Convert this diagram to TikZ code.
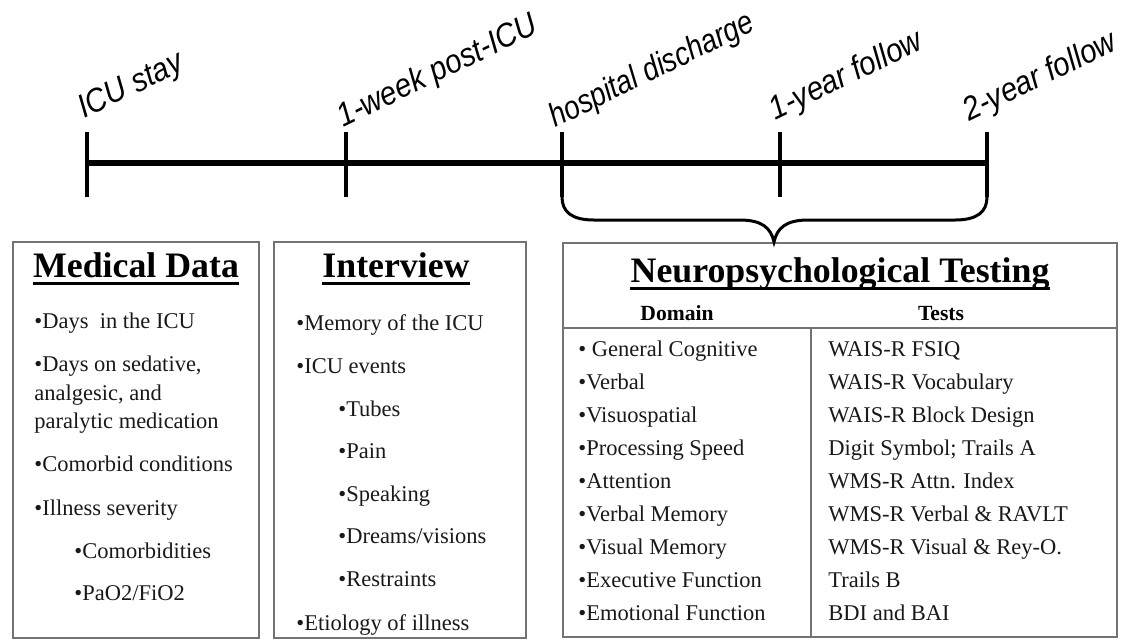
\documentclass[tikz,border=0pt]{standalone}
\usepackage{fontspec}
\setmainfont{Liberation Serif}
\newfontfamily\labfont{Liberation Sans}
\definecolor{boxgray}{RGB}{115,115,115}
\definecolor{txt}{RGB}{25,25,25}
\begin{document}
\begin{tikzpicture}[x=0.5pt,y=-0.5pt,
  timeln/.style={line width=2.6pt,black},
  tickln/.style={line width=1.9pt,black},
  bracel/.style={line width=1.5pt,black},
  box/.style={draw=boxgray,line width=1pt,inner sep=0pt,anchor=north west},
  sepln/.style={draw=boxgray,line width=1pt},
  lab/.style={font=\labfont\itshape\fontsize{16.5}{19}\selectfont,anchor=base west,inner sep=0pt,rotate=26,xscale=0.89},
  ttl/.style={font=\bfseries\fontsize{17.9}{20}\selectfont,anchor=base,inner sep=0pt},
  uline/.style={line width=1.3pt,black},
  bod/.style={font=\fontsize{11.25}{14}\selectfont,text=txt,anchor=base west,inner sep=0pt},
  hdr/.style={font=\bfseries\fontsize{10.8}{13}\selectfont,anchor=base,inner sep=0pt}
]
\useasboundingbox (0,0) rectangle (1133,639);

% timeline
\coordinate (t1) at (87,163);
\coordinate (t2) at (346,163);
\coordinate (t3) at (562,163);
\coordinate (t4) at (780,163);
\coordinate (t5) at (987,163);
\draw[timeln] (t1) -- (t5);
\foreach \t in {t1,t2,t3,t4,t5}{
  \draw[tickln] ([yshift=15.5pt]\t) -- ([yshift=-17pt]\t);
}
\node[lab] (l1) at (84,119) {ICU stay};
\node[lab] (l2) at (343,128) {1-week post-ICU};
\node[lab,xscale=0.945] (l3) at (555,128) {hospital discharge};
\node[lab] (l4) at (775,121) {1-year follow};
\node[lab] (l5) at (969,122) {2-year follow};

% boxes
\node[box,minimum width=123pt,minimum height=198pt] (med) at (12,241) {};
\node[box,minimum width=126pt,minimum height=198pt] (int) at (273,241) {};
\node[box,minimum width=277pt,minimum height=197pt] (neu) at (562,242) {};

% brace
\coordinate (tip) at (774,242);
\draw[bracel] ([yshift=-17pt]t3) .. controls (562,212) and (572,220) .. (594,220)
  -- (740,220) .. controls (762,220) and (771,228) .. (tip)
  .. controls (777,228) and (786,220) .. (808,220)
  -- (955,220) .. controls (977,220) and (987,212) .. ([yshift=-17pt]t5);

% Medical Data
\node[ttl] (mt) at (136,277) {Medical Data};
\draw[uline] ([yshift=-3.3pt]mt.base west) -- ([yshift=-3.3pt]mt.base east);
\node[bod] (m1) at (34,328) {•Days\ \ in the ICU};
\node[bod] (m2) at (34,371) {•Days on sedative,};
\node[bod] (m2b) at (34,400) {analgesic, and};
\node[bod] (m2c) at (34,428) {paralytic medication};
\node[bod] (m3) at (34,471) {•Comorbid conditions};
\node[bod] (m4) at (34,515) {•Illness severity};
\node[bod] (m5) at (74,558) {•Comorbidities};
\node[bod] (m6) at (74,600) {•PaO2/FiO2};

% Interview
\node[ttl] (it) at (396,277) {Interview};
\draw[uline] ([yshift=-3.3pt]it.base west) -- ([yshift=-3.3pt]it.base east);
\node[bod] (i1) at (296,330) {•Memory of the ICU};
\node[bod] (i2) at (296,373) {•ICU events};
\node[bod] (i3) at (338,416) {•Tubes};
\node[bod] (i4) at (338,458) {•Pain};
\node[bod] (i5) at (338,501) {•Speaking};
\node[bod] (i6) at (338,543) {•Dreams/visions};
\node[bod] (i7) at (338,586) {•Restraints};
\node[bod] (i8) at (296,630) {•Etiology of illness};

% Neuropsychological Testing
\node[ttl] (nt) at (840,282) {Neuropsychological Testing};
\draw[uline] ([yshift=-3.2pt]nt.base west) -- ([yshift=-3.2pt]nt.base east);
\coordinate (hl) at (0,328);
\coordinate (dv) at (811,0);
\draw[sepln] (neu.west |- hl) -- (neu.east |- hl);
\draw[sepln] (dv |- hl) -- (dv |- neu.south);
\node[hdr] (hd) at (677,320) {Domain};
\node[hdr] (ht) at (941,320) {Tests};

\foreach \y/\d/\tt [count=\i] in {
  356/{• General Cognitive}/{WAIS-R FSIQ},
  389/{•Verbal}/{WAIS-R Vocabulary},
  422/{•Visuospatial}/{WAIS-R Block Design},
  455/{•Processing Speed}/{Digit Symbol; Trails A},
  488/{•Attention}/{WMS-R Attn. Index},
  521/{•Verbal Memory}/{WMS-R Verbal \& RAVLT},
  554/{•Visual Memory}/{WMS-R Visual \& Rey-O.},
  587/{•Executive Function}/{Trails B},
  620/{•Emotional Function}/{BDI and BAI}}{
  \node[bod] (d\i) at (578,\y) {\d};
  \node[bod] (r\i) at (828,\y) {\tt};
}
\end{tikzpicture}
\end{document}
